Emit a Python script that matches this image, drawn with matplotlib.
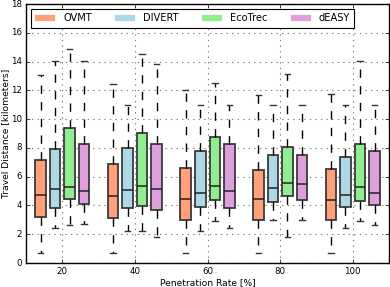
import numpy as np
import matplotlib
matplotlib.use("Agg")
from matplotlib import pyplot as plt
from matplotlib.lines import Line2D

rates = [20, 40, 60, 80, 100]
methods = ['OVMT', 'DIVERT', 'EcoTrec', 'dEASY']
colors = ['#FFA07A', '#ADD8E6', '#90EE90', '#DDA0DD']

# per method: rows = penetration rate, values = (low whisker, q1, median, q3, high whisker)
ovmt = [[0.72, 3.18, 4.76, 7.13, 13.08],
        [0.72, 3.11, 4.65, 6.85, 12.45],
        [0.72, 3.00, 4.46, 6.62, 12.03],
        [0.72, 3.00, 4.44, 6.48, 11.69],
        [0.72, 2.97, 4.37, 6.53, 11.78]]
divert = [[2.46, 3.81, 5.13, 7.92, 14.03],
          [2.25, 3.85, 5.04, 7.99, 10.99],
          [2.25, 3.88, 4.88, 7.80, 10.99],
          [2.97, 4.25, 5.18, 7.53, 10.99],
          [2.44, 3.90, 4.72, 7.36, 10.99]]
ecotrec = [[2.67, 4.44, 5.27, 9.38, 14.86],
           [2.25, 3.93, 5.37, 9.04, 14.50],
           [2.95, 4.37, 5.37, 8.76, 12.52],
           [1.83, 4.67, 5.57, 8.06, 13.15],
           [2.95, 4.32, 5.30, 8.29, 14.03]]
deasy = [[2.74, 4.11, 4.97, 8.24, 14.05],
         [1.83, 3.67, 5.13, 8.29, 13.85],
         [2.44, 3.83, 5.02, 8.24, 10.99],
         [2.97, 4.39, 5.48, 7.53, 10.99],
         [2.63, 4.04, 4.88, 7.78, 10.99]]
all_data = [ovmt, divert, ecotrec, deasy]
offsets = [-6, -2, 2, 6]

plt.style.use('classic')
plt.rcParams['font.family'] = 'DejaVu Sans'
fig = plt.figure(figsize=(3.9, 2.87), dpi=100)
fig.patch.set_facecolor('white')
ax = fig.add_axes([0.0667, 0.0836, 0.9308, 0.9024])

for m in range(4):
    stats = []
    for r in range(len(rates)):
        lo, q1, med, q3, hi = all_data[m][r]
        stats.append({'whislo': lo, 'q1': q1, 'med': med, 'q3': q3, 'whishi': hi, 'fliers': []})
    pos = [x + offsets[m] for x in rates]
    bp = ax.bxp(stats, positions=pos, widths=2.9, patch_artist=True, showfliers=False,
                manage_ticks=False,
                boxprops=dict(facecolor=colors[m], edgecolor='#3a3a3a', linewidth=1.3),
                medianprops=dict(color='#222222', linewidth=1.1),
                whiskerprops=dict(color='black', linestyle='--', linewidth=1.0),
                capprops=dict(color='#333333', linewidth=1.0),
                capwidths=1.5)

ax.set_xlim(10, 110)
ax.set_ylim(0, 18)
ax.set_xticks(rates)
ax.set_yticks(range(0, 19, 2))
ax.tick_params(labelsize=6.2, direction='in', length=3, pad=3)
ax.grid(True, linestyle=':', color='gray', linewidth=0.8)
ax.set_axisbelow(True)
ax.set_xlabel('Penetration Rate [%]', fontsize=6.6, labelpad=1.5)
ax.set_ylabel('Travel Distance [kilometers]', fontsize=6.6, labelpad=0.8)

handles = [Line2D([0], [0], color=c, lw=4.5) for c in colors]
leg = ax.legend(handles, methods, loc='upper left', bbox_to_anchor=(0.0138, 0.981), ncol=4,
                fontsize=7.1, handlelength=2.0, handletextpad=0.8, columnspacing=2.4,
                borderpad=0.45, borderaxespad=0, fancybox=False, framealpha=1)
leg.get_frame().set_linewidth(0.8)

fig.savefig('out.png', dpi=100, facecolor='white')
